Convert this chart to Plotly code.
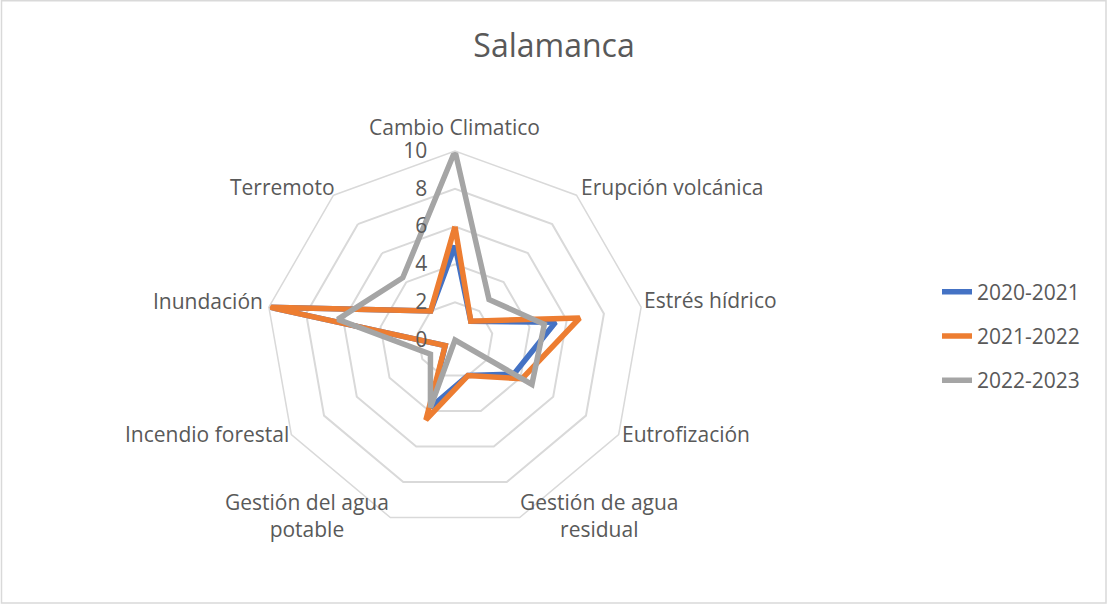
import plotly.graph_objects as go

# categories (clockwise from the top)
categorias = ['Cambio Climatico', 'Erupción volcánica', 'Estrés hídrico', 'Eutrofización',
              'Gestión de agua residual', 'Gestión del agua potable', 'Incendio forestal',
              'Inundación', 'Terremoto']
etiquetas = ['Cambio Climatico', 'Erupción volcánica', 'Estrés hídrico', 'Eutrofización',
             'Gestión de agua<br>residual', 'Gestión del agua<br>potable', 'Incendio forestal',
             'Inundación', 'Terremoto']

v_2020_2021 = [5, 1.3, 5.4, 3.6, 2, 3.8, 0.6, 10, 2]
v_2021_2022 = [6, 1.3, 6.7, 4.1, 2, 4.5, 0.6, 10, 2]
v_2022_2023 = [10, 2.8, 4.8, 4.7, 0, 3.8, 1.5, 6.3, 4.3]

series = [('2020-2021', v_2020_2021, '#4472C4'),
          ('2021-2022', v_2021_2022, '#ED7D31'),
          ('2022-2023', v_2022_2023, '#A5A5A5')]

ticks_r = [0, 2, 4, 6, 8, 10]

FONT = 'Open Sans'
TXT = '#595959'
GRID = '#D9D9D9'

W, H = 1108, 605
# domain box of the radar (pixels)
cx, cy, R = 455, 340, 189

# where Excel put the category labels (pixel x, pixel y, anchor)
pos_etiquetas = [(454, 127, 'center'), (579, 187, 'left'), (642, 300, 'left'),
                 (620, 434, 'left'), (599, 515, 'center'), (307, 515, 'center'),
                 (291, 434, 'right'), (265, 301, 'right'), (337, 187, 'right')]

fig = go.Figure()
for name, vals, color in series:
    fig.add_trace(go.Scatterpolar(
        r=vals + vals[:1], theta=categorias + categorias[:1],
        mode='lines', name=name, legendgroup=name,
        line=dict(color=color, width=5.5)))

anotaciones = []
for txt, (px, py, anc) in zip(etiquetas, pos_etiquetas):
    anotaciones.append(dict(text=txt, x=px / W, y=1 - py / H, xref='paper', yref='paper',
                            xanchor=anc, yanchor='middle', align='center', showarrow=False,
                            font=dict(family=FONT, size=21, color=TXT)))

fig.update_layout(
    width=W, height=H,
    margin=dict(l=0, r=0, t=0, b=0),
    paper_bgcolor='white', plot_bgcolor='white',
    font=dict(family=FONT, size=21, color=TXT),
    title=dict(text='Salamanca', x=0.5, xanchor='center', y=1 - 46 / H, yanchor='middle',
               font=dict(family=FONT, size=32, color=TXT)),
    polar=dict(
        domain=dict(x=[(cx - R) / W, (cx + R) / W],
                    y=[(H - cy - R) / H, (H - cy + R) / H]),
        bgcolor='white',
        gridshape='linear',
        angularaxis=dict(type='category', categoryarray=categorias,
                         rotation=90, direction='clockwise',
                         showgrid=False, showline=True, linecolor=GRID, linewidth=1.5,
                         ticks='', showticklabels=False),
        radialaxis=dict(range=[0, 10], tickvals=ticks_r, angle=90, side='counterclockwise',
                        tickangle=90, showline=False,
                        gridcolor=GRID, gridwidth=1.5,
                        ticks='outside', ticklen=20, tickcolor='rgba(0,0,0,0)',
                        tickfont=dict(family=FONT, size=21, color=TXT)),
    ),
    annotations=anotaciones,
    legend=dict(x=937 / W, xanchor='left', y=1 - 336 / H, yanchor='middle',
                tracegroupgap=14, font=dict(family=FONT, size=21, color=TXT)),
    shapes=[dict(type='rect', xref='paper', yref='paper',
                 x0=1.5 / W, x1=1106 / W, y0=1 - 603 / H, y1=1 - 0.8 / H,
                 line=dict(color=GRID, width=1.5))],
)

# no page margin so the figure sits at the window's top-left corner
fig.write_html('out.html', config={'displayModeBar': False},
               post_script="document.body.style.margin='0';")
